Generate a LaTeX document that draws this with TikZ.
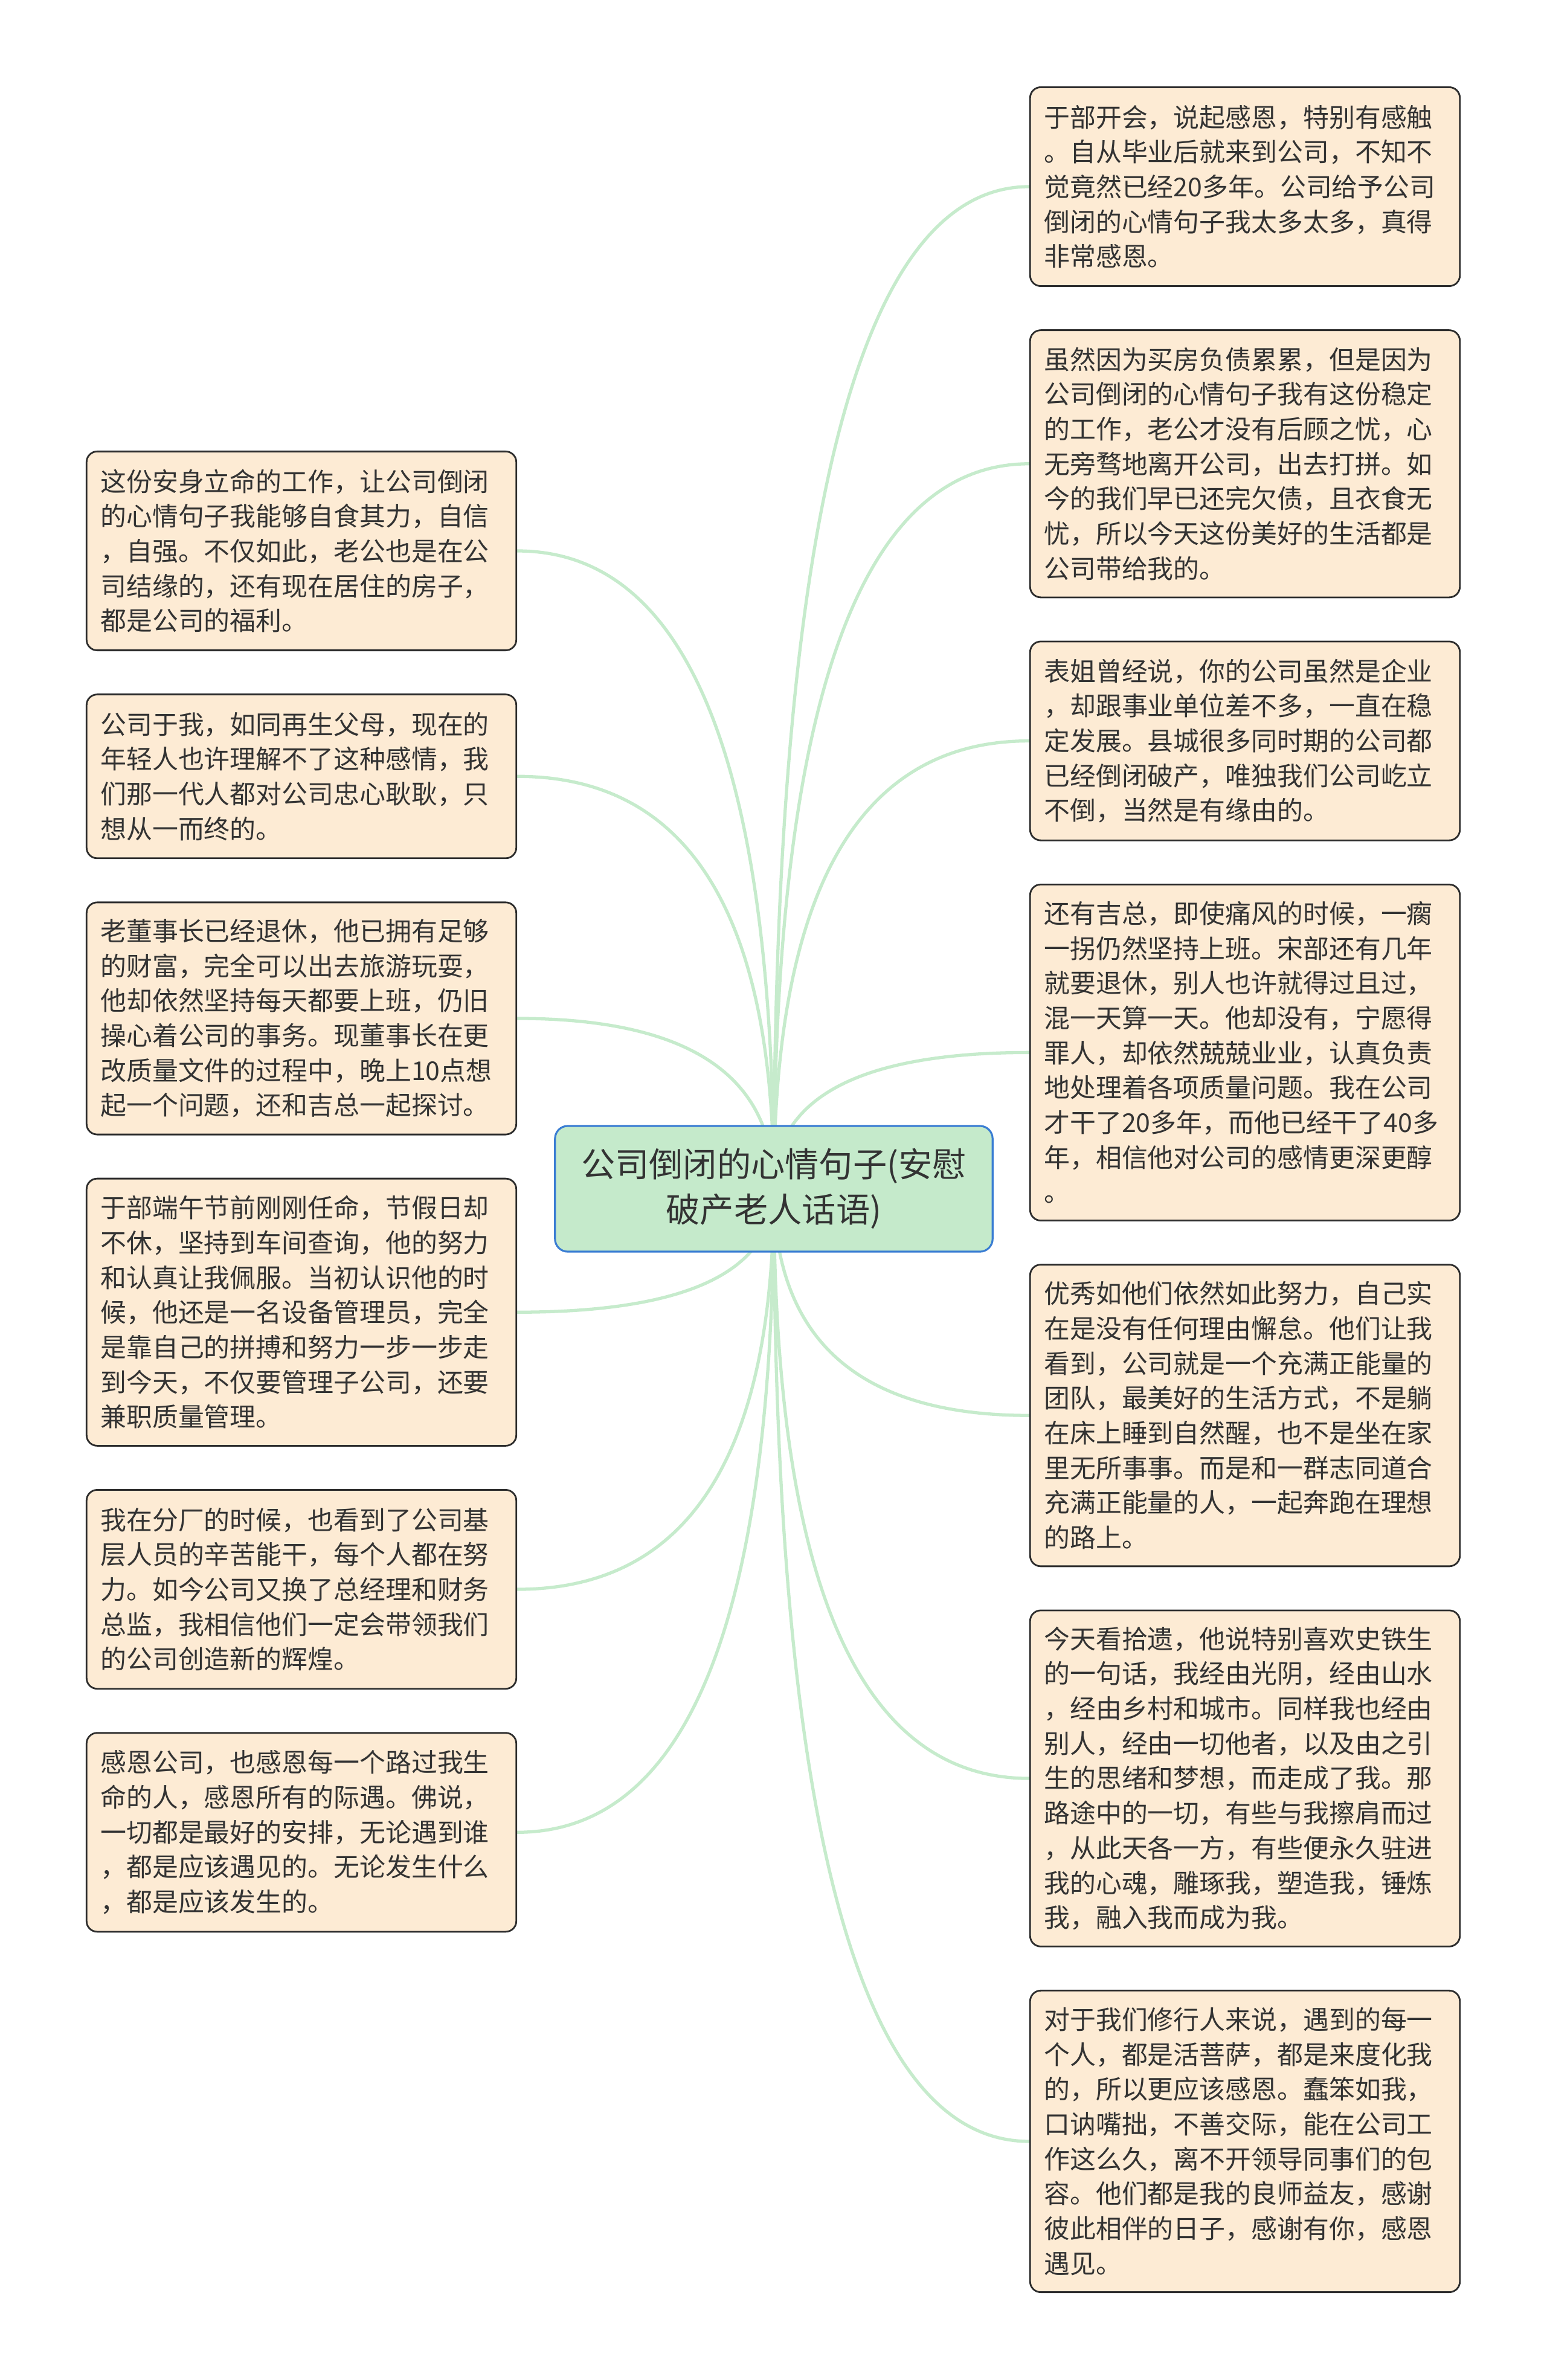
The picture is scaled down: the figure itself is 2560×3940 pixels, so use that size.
\documentclass[tikz,border=0pt]{standalone}
\usepackage{fontspec}
\setmainfont{Noto Sans CJK SC}
\definecolor{topicgreen}{RGB}{197, 234, 203}
\definecolor{topicblue}{RGB}{58, 125, 211}
\definecolor{leafpeach}{RGB}{253, 235, 212}
\definecolor{leafedge}{RGB}{45, 45, 45}
\definecolor{branchgreen}{RGB}{198, 235, 204}
\definecolor{inkgray}{RGB}{51, 51, 51}
\usetikzlibrary{positioning, calc, backgrounds}
\tikzset{
	topic/.style={rectangle, rounded corners=6pt, draw=topicblue, fill=topicgreen, line width=0.9pt, align=center, minimum width=7.24cm, minimum height=2.08cm, text=inkgray, font=\fontsize{16pt}{21.4pt}\selectfont},
	leaf/.style={rectangle, rounded corners=5pt, draw=leafedge, fill=leafpeach, line width=0.8pt, align=left, text width=6.65cm, inner xsep=0.23cm, inner ysep=0pt, text=inkgray, font=\fontsize{12.2pt}{16.4pt}\selectfont},
	branch/.style={draw=branchgreen, line width=1.5pt},
}

\begin{document}
\begin{tikzpicture}[x=0.01cm, y=-0.01cm, node distance=0.702cm]
		\useasboundingbox (0,0) rectangle (2560,3940);
		\node[topic] (root) at (1281,1968) {公司倒闭的心情句子(安慰\\破产老人话语)};
		% right column
		\node[leaf, anchor=north, minimum height=3.29cm] (r1) at (2061,143) {于部开会，说起感恩，特别有感触\\。自从毕业后就来到公司，不知不\\觉竟然已经20多年。公司给予公司\\倒闭的心情句子我太多太多，真得\\非常感恩。};
		\node[leaf, below=of r1, minimum height=4.42cm] (r2) {虽然因为买房负债累累，但是因为\\公司倒闭的心情句子我有这份稳定\\的工作，老公才没有后顾之忧，心\\无旁骛地离开公司，出去打拼。如\\今的我们早已还完欠债，且衣食无\\忧，所以今天这份美好的生活都是\\公司带给我的。};
		\node[leaf, below=of r2, minimum height=3.29cm] (r3) {表姐曾经说，你的公司虽然是企业\\，却跟事业单位差不多，一直在稳\\定发展。县城很多同时期的公司都\\已经倒闭破产，唯独我们公司屹立\\不倒，当然是有缘由的。};
		\node[leaf, below=of r3, minimum height=5.56cm] (r4) {还有吉总，即使痛风的时候，一瘸\\一拐仍然坚持上班。宋部还有几年\\就要退休，别人也许就得过且过，\\混一天算一天。他却没有，宁愿得\\罪人，却依然兢兢业业，认真负责\\地处理着各项质量问题。我在公司\\才干了20多年，而他已经干了40多\\年，相信他对公司的感情更深更醇\\。};
		\node[leaf, below=of r4, minimum height=4.99cm] (r5) {优秀如他们依然如此努力，自己实\\在是没有任何理由懈怠。他们让我\\看到，公司就是一个充满正能量的\\团队，最美好的生活方式，不是躺\\在床上睡到自然醒，也不是坐在家\\里无所事事。而是和一群志同道合\\充满正能量的人，一起奔跑在理想\\的路上。};
		\node[leaf, below=of r5, minimum height=5.56cm] (r6) {今天看拾遗，他说特别喜欢史铁生\\的一句话，我经由光阴，经由山水\\，经由乡村和城市。同样我也经由\\别人，经由一切他者，以及由之引\\生的思绪和梦想，而走成了我。那\\路途中的一切，有些与我擦肩而过\\，从此天各一方，有些便永久驻进\\我的心魂，雕琢我，塑造我，锤炼\\我，融入我而成为我。};
		\node[leaf, below=of r6, minimum height=4.99cm] (r7) {对于我们修行人来说，遇到的每一\\个人，都是活菩萨，都是来度化我\\的，所以更应该感恩。蠢笨如我，\\口讷嘴拙，不善交际，能在公司工\\作这么久，离不开领导同事们的包\\容。他们都是我的良师益友，感谢\\彼此相伴的日子，感谢有你，感恩\\遇见。};
		% left column
		\node[leaf, anchor=north, minimum height=3.29cm] (l1) at (499,746) {这份安身立命的工作，让公司倒闭\\的心情句子我能够自食其力，自信\\，自强。不仅如此，老公也是在公\\司结缘的，还有现在居住的房子，\\都是公司的福利。};
		\node[leaf, below=of l1, minimum height=2.71cm] (l2) {公司于我，如同再生父母，现在的\\年轻人也许理解不了这种感情，我\\们那一代人都对公司忠心耿耿，只\\想从一而终的。};
		\node[leaf, below=of l2, minimum height=3.84cm] (l3) {老董事长已经退休，他已拥有足够\\的财富，完全可以出去旅游玩耍，\\他却依然坚持每天都要上班，仍旧\\操心着公司的事务。现董事长在更\\改质量文件的过程中，晚上10点想\\起一个问题，还和吉总一起探讨。};
		\node[leaf, below=of l3, minimum height=4.42cm] (l4) {于部端午节前刚刚任命，节假日却\\不休，坚持到车间查询，他的努力\\和认真让我佩服。当初认识他的时\\候，他还是一名设备管理员，完全\\是靠自己的拼搏和努力一步一步走\\到今天，不仅要管理子公司，还要\\兼职质量管理。};
		\node[leaf, below=of l4, minimum height=3.29cm] (l5) {我在分厂的时候，也看到了公司基\\层人员的辛苦能干，每个人都在努\\力。如今公司又换了总经理和财务\\总监，我相信他们一定会带领我们\\的公司创造新的辉煌。};
		\node[leaf, below=of l5, minimum height=3.29cm] (l6) {感恩公司，也感恩每一个路过我生\\命的人，感恩所有的际遇。佛说，\\一切都是最好的安排，无论遇到谁\\，都是应该遇见的。无论发生什么\\，都是应该发生的。};
		\begin{scope}[on background layer]
			\foreach \n in {r1,r2,r3,r4,r5,r6,r7}
				\draw[branch] (root.center) .. controls ($(root.center)!0.667!(root.center |- \n.west)$) and ($(\n.west)!0.667!(root.center |- \n.west)$) .. (\n.west);
			\foreach \n in {l1,l2,l3,l4,l5,l6}
				\draw[branch] (root.center) .. controls ($(root.center)!0.667!(root.center |- \n.east)$) and ($(\n.east)!0.667!(root.center |- \n.east)$) .. (\n.east);
		\end{scope}
	\end{tikzpicture}
\end{document}
